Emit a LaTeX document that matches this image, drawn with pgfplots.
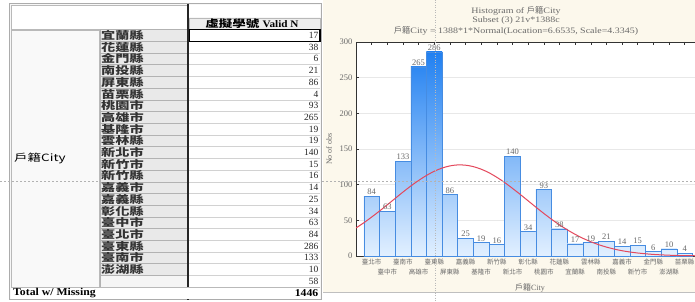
\documentclass[border=0pt]{standalone}
\usepackage{pgfplots}
\pgfplotsset{compat=1.18}
\usepackage{fontspec}
\setmainfont{Liberation Serif}
\newfontfamily\cjk{Noto Sans CJK TC}
\newfontfamily\cjkw{Noto Sans CJK TC}[FakeStretch=1.35]
\newfontfamily\serifw{Liberation Serif}[FakeStretch=1.12]
\newfontfamily\titlef{Liberation Serif}[FakeStretch=1.2]
\definecolor{topb}{RGB}{22,122,240}
\definecolor{botb}{RGB}{226,240,255}
\definecolor{barline}{RGB}{70,140,225}
\definecolor{curvered}{RGB}{228,72,92}
\definecolor{cream}{RGB}{252,248,236}
\definecolor{txtgray}{RGB}{105,105,105}
\newcommand{\histbar}[3]{\addplot[ybar, bar width=1, bar shift=0pt, draw=barline, line width=0.5pt, bottom color=botb, top color=topb!#3!botb, nodes near coords, every node near coord/.append style={text=txtgray, font=\fontsize{8.5}{8.5}\selectfont, inner sep=1pt, anchor=south}] coordinates {(#1,#2)};}
\begin{document}
\begin{tikzpicture}
\useasboundingbox (0,0) rectangle (695pt,-302pt);
\begin{scope}[x=1pt,y=-1pt]
\fill[white] (0,0) rectangle (695,302);
\fill[cream] (323,0) rectangle (695,292);
\draw[gray!50] (323,292) -- (695,292);
% ---------- table ----------
\fill[gray!6] (9,3) rectangle (322,300);
\draw[gray!65, line width=1.2pt] (9.6,3.6) rectangle (321.4,299.6);
\fill[white] (11,5) rectangle (187,29);
\draw[gray!55] (11,5) rectangle (187,29);
\fill[white] (189,5) rectangle (320,17.5);
\fill[gray!14] (189,18.5) rectangle (320,29);
\draw[gray!55] (189,18.5) rectangle (320,29);
\node[font=\cjkw\bfseries\fontsize{10}{10}\selectfont, inner sep=0] at (252,24) {虛擬學號 {\serifw\bfseries Valid N}};
\fill[gray!5] (11,30) rectangle (99.5,287);
\draw[gray!55] (11,30) rectangle (99.5,287);
\node[anchor=west, font=\cjkw\fontsize{10}{10}\selectfont, inner sep=0] at (14,158.5) {戶籍City};
\fill[white] (189,30) rectangle (320,287);
\foreach \n/\v [count=\i from 0] in {宜蘭縣/17, 花蓮縣/38, 金門縣/6, 南投縣/21, 屏東縣/86, 苗栗縣/4, 桃園市/93, 高雄市/265, 基隆市/19, 雲林縣/19, 新北市/140, 新竹市/15, 新竹縣/16, 嘉義市/14, 嘉義縣/25, 彰化縣/34, 臺中市/63, 臺北市/84, 臺東縣/286, 臺南市/133, 澎湖縣/10} {
  \pgfmathsetmacro\t{29.6+11.7*\i}
  \pgfmathsetmacro\b{\t+11.7}
  \pgfmathsetmacro\c{\t+5.85}
  \fill[gray!17] (100.5,\t) rectangle (187,\b);
  \draw[gray!60] (100.5,\t) rectangle (187,\b);
  \draw[gray!35] (189,\b) -- (320,\b);
  \node[anchor=west, font=\cjkw\bfseries\fontsize{10.5}{10.5}\selectfont, inner sep=0, text=black!80] at (101,\c) {\n};
  \node[anchor=east, font=\fontsize{9.5}{9.5}\selectfont, inner sep=0, text=black!85] at (318.5,\c) {\v};
}
\fill[gray!8] (100.5,275.3) rectangle (187,287);
\draw[gray!60] (100.5,275.3) rectangle (187,287);
\node[anchor=east, font=\fontsize{9.5}{9.5}\selectfont, inner sep=0, text=black!85] at (318.5,281.2) {58};
\draw[black, line width=1.2pt] (189.5,29.9) rectangle (320,41.3);
\draw[gray!30!black, line width=1.6pt] (188,4) -- (188,300);
\fill[white] (11,287.5) rectangle (320,299);
\draw[gray!55] (11,287.3) -- (320,287.3);
\node[anchor=west, font=\serifw\bfseries\fontsize{10.5}{10.5}\selectfont, inner sep=0] at (13,293.5) {Total w/ Missing};
\node[anchor=east, font=\serifw\bfseries\fontsize{10.5}{10.5}\selectfont, inner sep=0] at (318.5,293.5) {1446};
\end{scope}
% ---------- histogram ----------
\begin{axis}[
  at={(356pt,-256pt)}, anchor=south west,
  scale only axis, width=344.3pt, height=214pt,
  xmin=0, xmax=22, ymin=0, ymax=300,
  axis background/.style={fill=white},
  axis line style={gray!40!black, line width=0.7pt},
  ytick={0,50,...,300},
  ymajorgrids, major grid style={gray!18, line width=0.6pt},
  xtick={1,3,...,21},
  xticklabels={臺北市,臺南市,臺東縣,嘉義縣,新竹縣,彰化縣,花蓮縣,雲林縣,嘉義市,金門縣,苗栗縣},
  extra x ticks={2,4,...,20},
  extra x tick labels={臺中市,高雄市,屏東縣,基隆市,新北市,桃園市,宜蘭縣,南投縣,新竹市,澎湖縣},
  extra x tick style={grid=none, tick label style={yshift=-10.5pt}},
  tick align=inside, major tick length=3pt,
  tick style={gray!40!black, line width=0.5pt},
  xticklabel style={font=\cjk\fontsize{6.5}{6.5}\selectfont, text=txtgray, inner sep=1pt, yshift=-1.5pt},
  yticklabel style={font=\fontsize{8.5}{8.5}\selectfont, text=txtgray},
  /pgf/number format/assume math mode=true,
]
\histbar{1}{84}{28}
\histbar{2}{63}{21}
\histbar{3}{133}{44}
\histbar{4}{265}{88}
\histbar{5}{286}{95}
\histbar{6}{86}{29}
\histbar{7}{25}{8}
\histbar{8}{19}{6}
\histbar{9}{16}{5}
\histbar{10}{140}{47}
\histbar{11}{34}{11}
\histbar{12}{93}{31}
\histbar{13}{38}{13}
\histbar{14}{17}{6}
\histbar{15}{19}{6}
\histbar{16}{21}{7}
\histbar{17}{14}{5}
\histbar{18}{15}{5}
\histbar{19}{6}{2}
\histbar{20}{10}{3}
\histbar{21}{4}{1}
\addplot[smooth, color=curvered, line width=1pt] coordinates {
(0,39.3) (0.5,46.6) (1,54.6) (1.5,63.0) (2,71.8) (2.5,80.7) (3,89.6) (3.5,98.1) (4,105.9) (4.5,112.9) (5,118.8) (5.5,123.3) (6,126.3) (6.5,127.7) (7,127.3) (7.5,125.3) (8,121.7) (8.5,116.7) (9,110.3) (9.5,103.0) (10,94.8) (10.5,86.2) (11,77.3) (11.5,68.4) (12,59.7) (12.5,51.4) (13,43.7) (13.5,36.7) (14,30.4) (14.5,24.8) (15,20.0) (15.5,15.9) (16,12.5) (16.5,9.7) (17,7.4) (17.5,5.6) (18,4.2) (18.5,3.1) (19,2.2) (19.5,1.6) (20,1.1) (20.5,0.8) (21,0.5) (21.5,0.4) (22,0.2)};
\end{axis}
\begin{scope}[x=1pt,y=-1pt]
\node[font=\titlef\fontsize{8.3}{8.3}\selectfont, text=txtgray] at (516,11) {Histogram of {\cjk 戶籍}City};
\node[font=\titlef\fontsize{8.3}{8.3}\selectfont, text=txtgray] at (516,21) {Subset (3) 21v*1388c};
\node[font=\titlef\fontsize{8.3}{8.3}\selectfont, text=txtgray] at (516,31) {{\cjk 戶籍}City = 1388*1*Normal(Location=6.6535, Scale=4.3345)};
\node[rotate=90, font=\fontsize{8}{8}\selectfont, text=txtgray] at (329,149) {No of obs};
\node[font=\fontsize{8}{8}\selectfont, text=txtgray] at (530,288) {{\cjk 戶籍}City};
\draw[gray!60, dash pattern=on 2pt off 2pt] (0,181) -- (99,181);
\draw[gray!60, dash pattern=on 2pt off 2pt] (322,181) -- (695,181);
\draw[gray!55, dash pattern=on 1pt off 1.5pt] (435,0) -- (435,302);
\end{scope}
\end{tikzpicture}
\end{document}
